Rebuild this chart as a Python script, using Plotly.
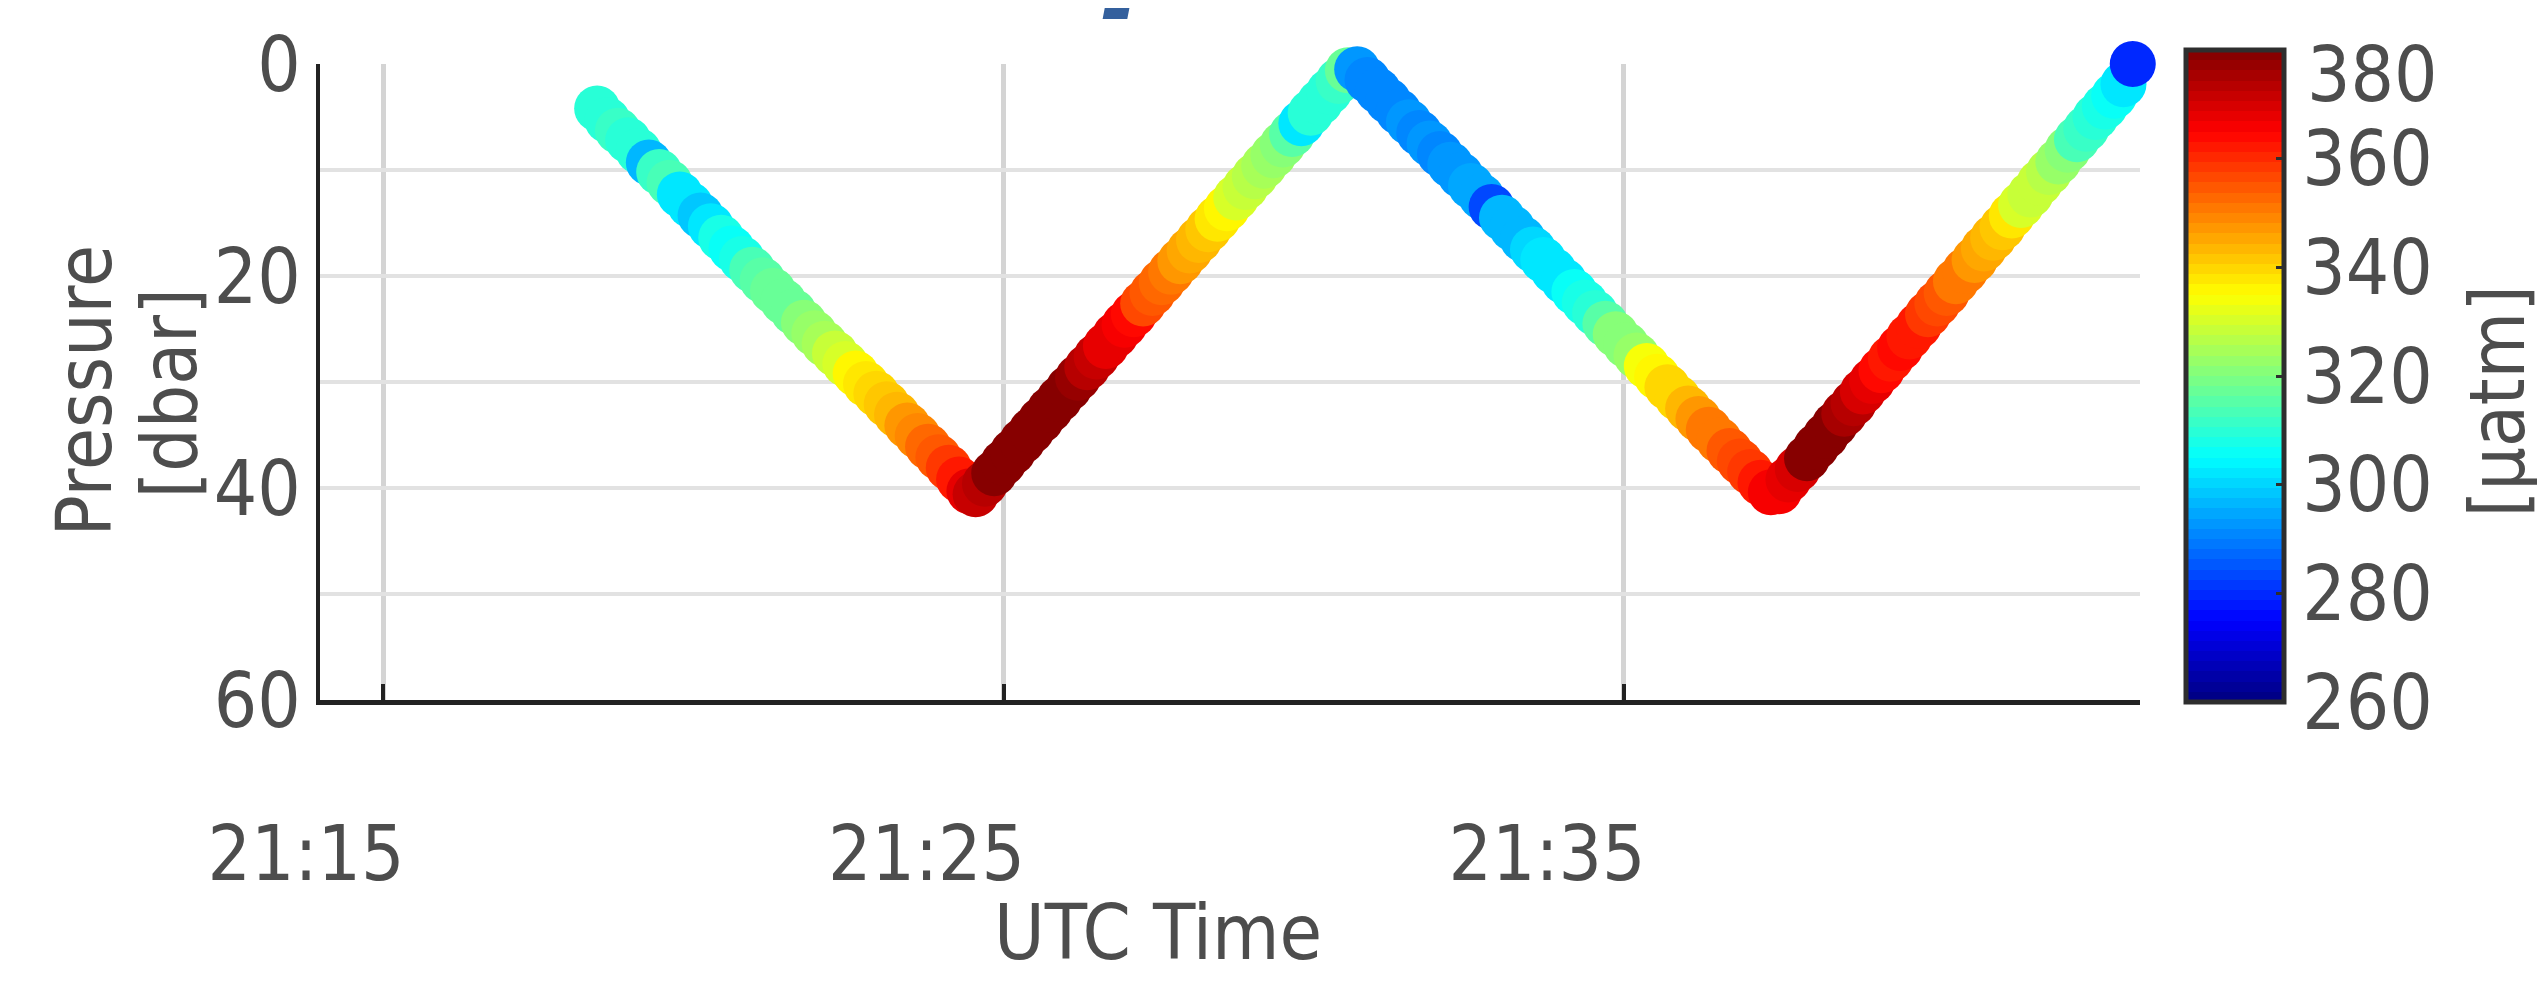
import plotly.graph_objects as go

DATE = "2021-01-01 "
FONT = "DejaVu Sans Condensed, Liberation Sans Narrow, DejaVu Sans, sans-serif"
TXT = "#4d4d4d"
FS = 76

# ---- cast 1 : descent ----
cast1_time = ["21:18:27","21:18:37","21:18:47","21:18:57","21:19:07","21:19:17","21:19:27","21:19:37",
              "21:19:47","21:19:57","21:20:07","21:20:17","21:20:27","21:20:37","21:20:47","21:20:57",
              "21:21:07","21:21:17","21:21:27","21:21:37","21:21:47","21:21:57","21:22:07","21:22:17",
              "21:22:27","21:22:37","21:22:47","21:22:57","21:23:07","21:23:17","21:23:27","21:23:37",
              "21:23:47","21:23:57","21:24:07","21:24:17","21:24:27"]
cast1_pres = [4.2, 5.3, 6.3, 7.2, 8.2, 9.3, 10.2, 11.2, 12.3, 13.3, 14.3, 15.3, 16.4, 17.4, 18.4, 19.4,
              20.4, 21.4, 22.4, 23.4, 24.4, 25.4, 26.4, 27.3, 28.3, 29.2, 30.2, 31.1, 32.1, 33.1, 34.1,
              35.1, 36.1, 37.1, 38.1, 39.2, 40.3]
cast1_pco2 = [310, 310, 311, 309, 310, 296, 312, 313, 303, 302, 299, 303, 307, 306, 308, 314,
              315, 317, 317, 318, 321, 322, 324, 328, 331, 335, 337, 339, 342, 344, 347,
              349, 352, 355, 358, 362, 368]

# ---- cast 2 : ascent ----
cast2_time = ["21:24:33","21:24:42","21:24:51","21:25:00","21:25:09","21:25:18","21:25:27","21:25:36",
              "21:25:45","21:25:54","21:26:03","21:26:12","21:26:21","21:26:30","21:26:39","21:26:48",
              "21:26:57","21:27:06","21:27:15","21:27:24","21:27:33","21:27:42","21:27:51","21:28:00",
              "21:28:09","21:28:18","21:28:27","21:28:36","21:28:45","21:28:54","21:29:03","21:29:12",
              "21:29:21","21:29:30","21:29:39","21:29:48","21:29:57","21:30:06","21:30:15","21:30:24",
              "21:30:33"]
cast2_pres = [40.6, 39.6, 38.6, 37.6, 36.6, 35.6, 34.6, 33.6, 32.6, 31.6, 30.6, 29.6, 28.6, 27.6,
              26.6, 25.6, 24.6, 23.6, 22.6, 21.6, 20.6, 19.6, 18.6, 17.6, 16.6, 15.6, 14.6, 13.6,
              12.6, 11.6, 10.6, 9.6, 8.6, 7.6, 6.6, 5.6, 4.6, 3.6, 2.6, 1.6, 0.6]
cast2_pco2 = [371, 374, 380, 382, 381, 382, 381, 380, 381, 380, 379, 378, 373, 371,
              368, 367, 366, 364, 356, 355, 352, 350, 347, 345, 343, 341, 338, 335,
              330, 328, 327, 325, 322, 320, 316, 303, 310, 309, 310, 312, 318]

# ---- cast 3 : descent ----
cast3_time = ["21:30:42","21:30:52","21:31:02","21:31:12","21:31:22","21:31:32","21:31:42","21:31:52",
              "21:32:02","21:32:12","21:32:22","21:32:32","21:32:42","21:32:52","21:33:02","21:33:12",
              "21:33:22","21:33:32","21:33:42","21:33:52","21:34:02","21:34:12","21:34:22","21:34:32",
              "21:34:42","21:34:52","21:35:02","21:35:12","21:35:22","21:35:32","21:35:42","21:35:52",
              "21:36:02","21:36:12","21:36:22","21:36:32","21:36:42","21:36:52","21:37:02","21:37:12",
              "21:37:22"]
cast3_pres = [0.5, 1.5, 2.5, 3.5, 4.5, 5.5, 6.5, 7.5, 8.5, 9.5, 10.5, 11.5, 12.5, 13.5, 14.5, 15.5,
              16.5, 17.5, 18.5, 19.5, 20.5, 21.5, 22.5, 23.5, 24.5, 25.5, 26.5, 27.5, 28.5, 29.5,
              30.5, 31.5, 32.5, 33.5, 34.5, 35.5, 36.5, 37.5, 38.5, 39.5, 40.4]
cast3_pco2 = [292, 291, 290, 291, 291, 292, 291, 292, 291, 292, 293, 294, 294, 284, 296, 297,
              297, 300, 302, 303, 303, 306, 308, 309, 316, 320, 321, 323, 334, 336,
              339, 340, 344, 348, 350, 351, 355, 356, 358, 362, 365]

# ---- cast 4 : ascent ----
cast4_time = ["21:37:30","21:37:39","21:37:48","21:37:57","21:38:06","21:38:15","21:38:24","21:38:33",
              "21:38:42","21:38:51","21:39:00","21:39:09","21:39:18","21:39:27","21:39:36","21:39:45",
              "21:39:54","21:40:03","21:40:12","21:40:21","21:40:30","21:40:39","21:40:48","21:40:57",
              "21:41:06","21:41:15","21:41:24","21:41:33","21:41:42","21:41:51","21:42:00","21:42:09",
              "21:42:18","21:42:27","21:42:36","21:42:45","21:42:54","21:43:03","21:43:12"]
cast4_pres = [40.3, 39.2, 38.2, 37.2, 36.1, 35.1, 34.0, 33.0, 32.0, 30.9, 29.9, 28.9, 27.8, 26.8,
              25.7, 24.7, 23.6, 22.6, 21.6, 20.5, 19.5, 18.5, 17.4, 16.4, 15.4, 14.3, 13.3, 12.3,
              11.2, 10.2, 9.2, 8.1, 7.1, 6.1, 5.0, 4.0, 3.0, 1.9, 0.0]
cast4_pco2 = [366, 367, 370, 380, 382, 381, 379, 376, 373, 370, 368, 364, 363, 364,
              363, 362, 358, 356, 354, 351, 350, 347, 346, 344, 341, 338, 331, 329,
              328, 326, 323, 320, 314, 312, 309, 308, 305, 302, 279]

x_ticks = ["21:15", "21:25", "21:35"]
y_ticks = [0, 10, 20, 30, 40, 50, 60]
y_ticklabels = ["0", "", "20", "", "40", "", "60"]
cbar_ticks = [260, 280, 300, 320, 340, 360, 380]
# the top label (380) is nudged down inside the figure, as in the original
cbar_ticktext = ["260", "280", "300", "320", "340", "360", ""]
cbar_top_label = "380"

times = [DATE + t for t in cast1_time + cast2_time + cast3_time + cast4_time]
pres = cast1_pres + cast2_pres + cast3_pres + cast4_pres
pco2 = cast1_pco2 + cast2_pco2 + cast3_pco2 + cast4_pco2


# MATLAB-like jet colormap with 64 discrete levels
def _jet(v):
    r = min(max(1.5 - abs(4 * v - 3), 0), 1)
    g = min(max(1.5 - abs(4 * v - 2), 0), 1)
    b = min(max(1.5 - abs(4 * v - 1), 0), 1)
    return "rgb(%d,%d,%d)" % (round(r * 255), round(g * 255), round(b * 255))


N = 64
jet64 = []
for i in range(N):
    c = _jet((i + 0.5) / N)
    jet64.append([i / N, c])
    jet64.append([(i + 1) / N, c])

# page geometry (the html body adds an 8px margin on the top/left)
PAGE_W, PAGE_H, BODY = 2545, 983, 8
L, R, T, B = 320, 2140, 57, 700          # plot area on the page
W, H = R - L, B - T


def px(x):
    return (x - L) / W


def py(y):
    return (B - y) / H


fig = go.Figure()
fig.add_trace(go.Scatter(
    x=times, y=pres, mode="markers", cliponaxis=False,
    marker=dict(size=46, color=pco2, colorscale=jet64, cmin=260, cmax=380,
                line=dict(width=0),
                colorbar=dict(
                    thickness=98, len=652, lenmode="pixels",
                    x=px(2186), xanchor="left", xpad=0,
                    y=py(372.5), yanchor="middle", ypad=0,
                    outlinewidth=5, outlinecolor="#2e2e2e",
                    tickvals=cbar_ticks, ticktext=cbar_ticktext,
                    ticks="inside", ticklen=10, tickwidth=3,
                    tickcolor="#2e2e2e", ticklabeloverflow="allow",
                    tickfont=dict(family=FONT, size=FS, color=TXT),
                )),
    showlegend=False,
))

fig.update_layout(
    width=PAGE_W - BODY, height=PAGE_H - BODY,
    margin=dict(l=L - BODY, r=PAGE_W - R, t=T - BODY, b=PAGE_H - B),
    plot_bgcolor="white", paper_bgcolor="white",
    font=dict(family=FONT, size=FS, color=TXT),
    xaxis=dict(
        type="date",
        range=[DATE + "21:13:59", DATE + "21:43:19"],
        tickvals=[DATE + t for t in x_ticks], ticktext=x_ticks,
        showgrid=True, gridcolor="#d4d4d4", gridwidth=5,
        ticks="inside", ticklen=16, tickwidth=4, tickcolor="#222222",
        showline=True, linecolor="#222222", linewidth=5,
        zeroline=False,
        tickfont=dict(family=FONT, size=FS, color=TXT),
        ticklabelshift=-77, ticklabelstandoff=84,
    ),
    yaxis=dict(
        range=[60, 0],
        tickvals=y_ticks, ticktext=y_ticklabels,
        showgrid=True, gridcolor="#e2e2e2", gridwidth=4,
        ticks="", showline=True, linecolor="#222222", linewidth=4,
        zeroline=False,
        tickfont=dict(family=FONT, size=FS, color=TXT),
        ticklabelstandoff=0,
    ),
    annotations=[
        dict(text="Pressure", textangle=-90, x=px(84), y=py(387), xref="paper", yref="paper",
             showarrow=False, xanchor="center", yanchor="middle",
             font=dict(family=FONT, size=FS, color=TXT)),
        dict(text="[dbar]", textangle=-90, x=px(169), y=py(390), xref="paper", yref="paper",
             showarrow=False, xanchor="center", yanchor="middle",
             font=dict(family=FONT, size=FS, color=TXT)),
        dict(text="UTC Time", x=px(1158), y=py(935), xref="paper", yref="paper",
             showarrow=False, xanchor="center", yanchor="middle",
             font=dict(family=FONT, size=77, color=TXT)),
        dict(text="[µatm]", textangle=-90, x=px(2497), y=py(398), xref="paper", yref="paper",
             showarrow=False, xanchor="center", yanchor="middle",
             font=dict(family=FONT, size=FS, color=TXT)),
        dict(text=cbar_top_label, x=px(2305), y=py(68), xref="paper", yref="paper",
             showarrow=False, xanchor="left", yanchor="middle",
             font=dict(family=FONT, size=FS, color=TXT)),
        dict(text="<b><i>p</i></b>", x=px(1153), y=py(18), xref="paper", yref="paper",
             showarrow=False, xanchor="center", yanchor="bottom",
             font=dict(family="DejaVu Sans", size=140, color="#34609d")),
    ],
)

fig.write_html("out.html")
